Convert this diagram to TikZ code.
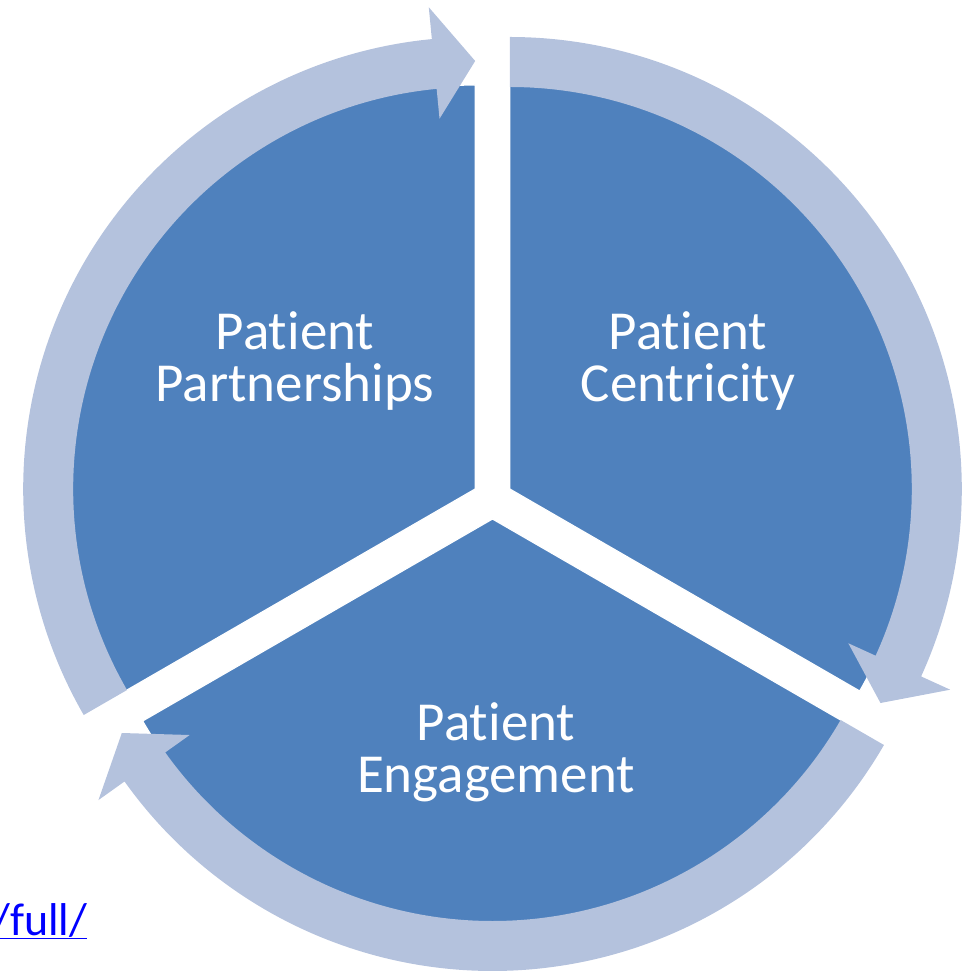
\documentclass[tikz,border=0pt]{standalone}
\usepackage{fontspec}
\setmainfont{Carlito}[Ligatures=NoCommon]
\definecolor{wedgeblue}{RGB}{79,129,189}
\definecolor{ringblue}{RGB}{180,194,221}

\begin{document}
\begin{tikzpicture}[x=1pt, y=1pt,
    wedge/.style   = {fill=wedgeblue, draw=white, line width=1.2pt},
    ring/.style    = {fill=ringblue},
    segtext/.style = {text=white, align=center, anchor=base,
      inner sep=0pt, font=\fontsize{55}{52}\selectfont},
    weblink/.style = {text=blue, anchor=base west, inner sep=0pt,
      font=\fontsize{46}{50}\selectfont}]
  \useasboundingbox (-492.5,-472) rectangle (484.5,499);
  \clip (-492.5,-472) rectangle (484.5,499);
  % each slice is pushed out along its bisector and carries its own arrow
  \foreach \off/\a/\b [evaluate=\a as \h using \a+5.5] in
      {150/90/210, 30/-30/90, 270/210/330} {
    \path[wedge, shift={(\off:20)}] (0,0) -- (\a:404)
      arc[start angle=\a, end angle=\b, radius=404] -- cycle;
    \path[ring, shift={(\off:20)}] (\b:402)
      arc[start angle=\b, end angle=\h, radius=402]
      -- (\h:372) -- (\a:428) -- (\h:484) -- (\h:452)
      arc[start angle=\h, end angle=\b, radius=452] -- cycle;
  }
  \node[segtext] (partnerships) at (-197.5,97)  {Patient\\Partnerships};
  \node[segtext] (centricity)   at (195.5,97)   {Patient\\Centricity};
  \node[segtext] (engagement)   at (3.5,-293)   {Patient\\Engagement};
  \node[weblink] (fulllink) at (-500.3,-436) {\underline{/full/}};
\end{tikzpicture}
\end{document}
